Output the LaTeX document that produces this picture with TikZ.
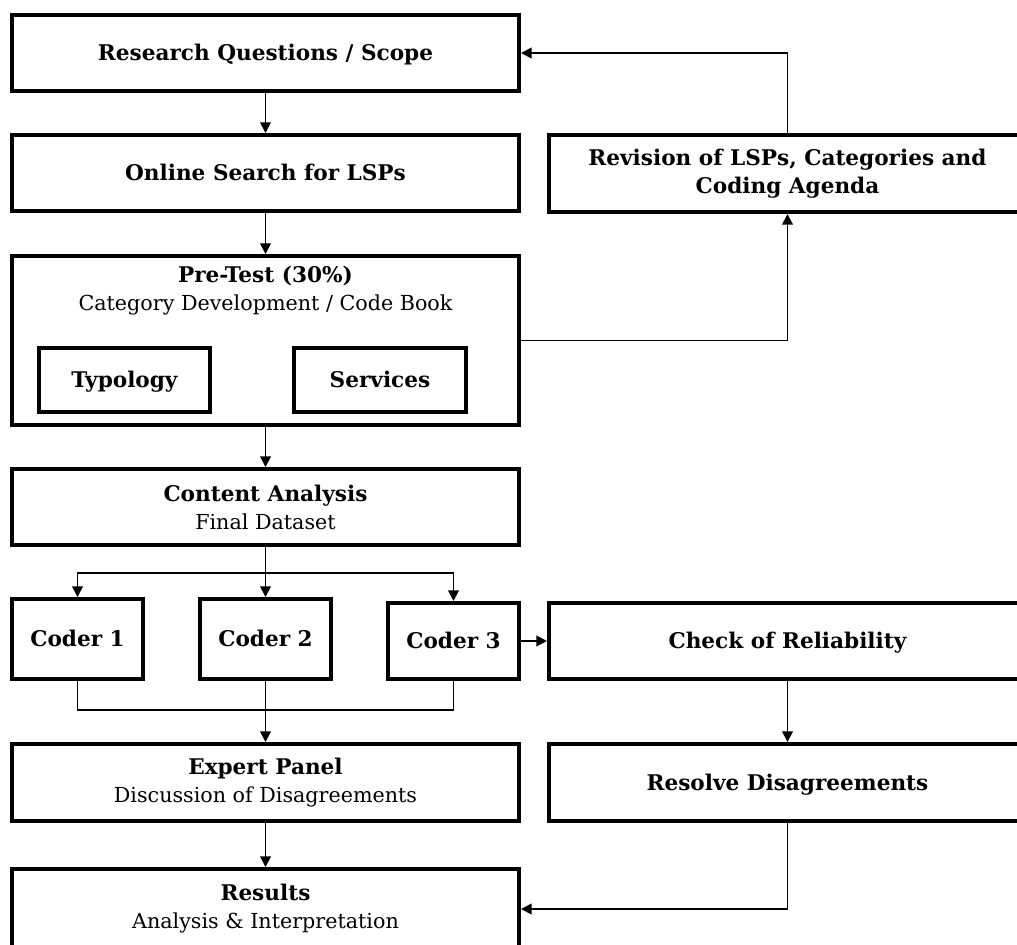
\documentclass[tikz,border=0pt]{standalone}
\usepackage{fontspec}
\setmainfont{DejaVu Serif}
\usetikzlibrary{arrows.meta}
\newcommand\mainfnt{\fontsize{15.5}{21}\selectfont}
\newcommand\hd[1]{{\fontsize{16.2}{21}\selectfont\bfseries #1}}
\begin{document}
\begin{tikzpicture}[x=0.75pt,y=-0.75pt,
  box/.style={draw, line width=3pt, fill=white, inner sep=0pt, align=center, font=\mainfnt},
  one/.style={text height=15pt, text depth=3.2pt},
  txt/.style={inner sep=0pt, align=center, font=\mainfnt},
  sz/.style 2 args={minimum width=#1*0.75pt, minimum height=#2*0.75pt},
  conn/.style={line width=1.4pt},
  arr/.style={conn, -{Triangle[length=8pt,width=8pt]}}]
\useasboundingbox (0,0) rectangle (1017,945);
\clip (0,0) rectangle (1017,945);

\node[box, one, sz={507}{76}] (rq) at (265.5,53) {\hd{Research Questions / Scope}};
\node[box, one, sz={507}{76}] (os) at (265.5,173) {\hd{Online Search for LSPs}};
\node[box, sz={477}{77}] (rev) at (787.5,173.5) {\hd{Revision of LSPs, Categories and}\\\hd{Coding Agenda}};
\node[box, sz={507}{169}] (pre) at (265.5,340.5) {};
\node[txt] (pret) at (265.5,291) {\hd{Pre-Test (30\%)}\\Category Development / Code Book};
\node[box, one, sz={171}{64}] (typ) at (124.5,380) {\hd{Typology}};
\node[box, one, sz={172}{64}] (ser) at (380,380) {\hd{Services}};
\node[box, sz={507}{76}] (con) at (265.5,507) {\hd{Content Analysis}\\Final Dataset};
\node[box, one, sz={131}{80}] (c1) at (77.5,639) {\hd{Coder 1}};
\node[box, one, sz={131}{80}] (c2) at (265.5,639) {\hd{Coder 2}};
\node[box, one, sz={131}{76}] (c3) at (453.5,641) {\hd{Coder 3}};
\node[box, one, sz={477}{76}] (chk) at (787.5,641) {\hd{Check of Reliability}};
\node[box, sz={507}{77}] (exp) at (265.5,782.5) {\hd{Expert Panel}\\Discussion of Disagreements};
\node[box, one, sz={477}{77}] (rsv) at (787.5,782.5) {\hd{Resolve Disagreements}};
\node[box, sz={507}{80}] (rst) at (265.5,909) {\hd{Results}\\Analysis \& Interpretation};

\draw[arr] (rq) -- (os);
\draw[arr] (os) -- (pre);
\draw[arr] (pre) -- (con);
\draw[arr] (rev.north) |- (rq.east);
\draw[arr] (pre.east) -| (rev.south);
\coordinate (br) at (265.5,573);
\draw[conn] (con.south) -- (br);
\draw[arr] (br) -| (c1.north);
\draw[arr] (br) -| (c3.north);
\draw[arr] (br) -- (c2.north);
\coordinate (mg) at (265.5,710);
\draw[conn] (c1.south) |- (mg);
\draw[conn] (c3.south) |- (mg);
\draw[arr] (c2.south) -- (exp.north);
\draw[arr] (c3) -- (chk);
\draw[arr] (chk) -- (rsv);
\draw[arr] (exp) -- (rst);
\draw[arr] (rsv.south) |- (rst.east);
\end{tikzpicture}
\end{document}
